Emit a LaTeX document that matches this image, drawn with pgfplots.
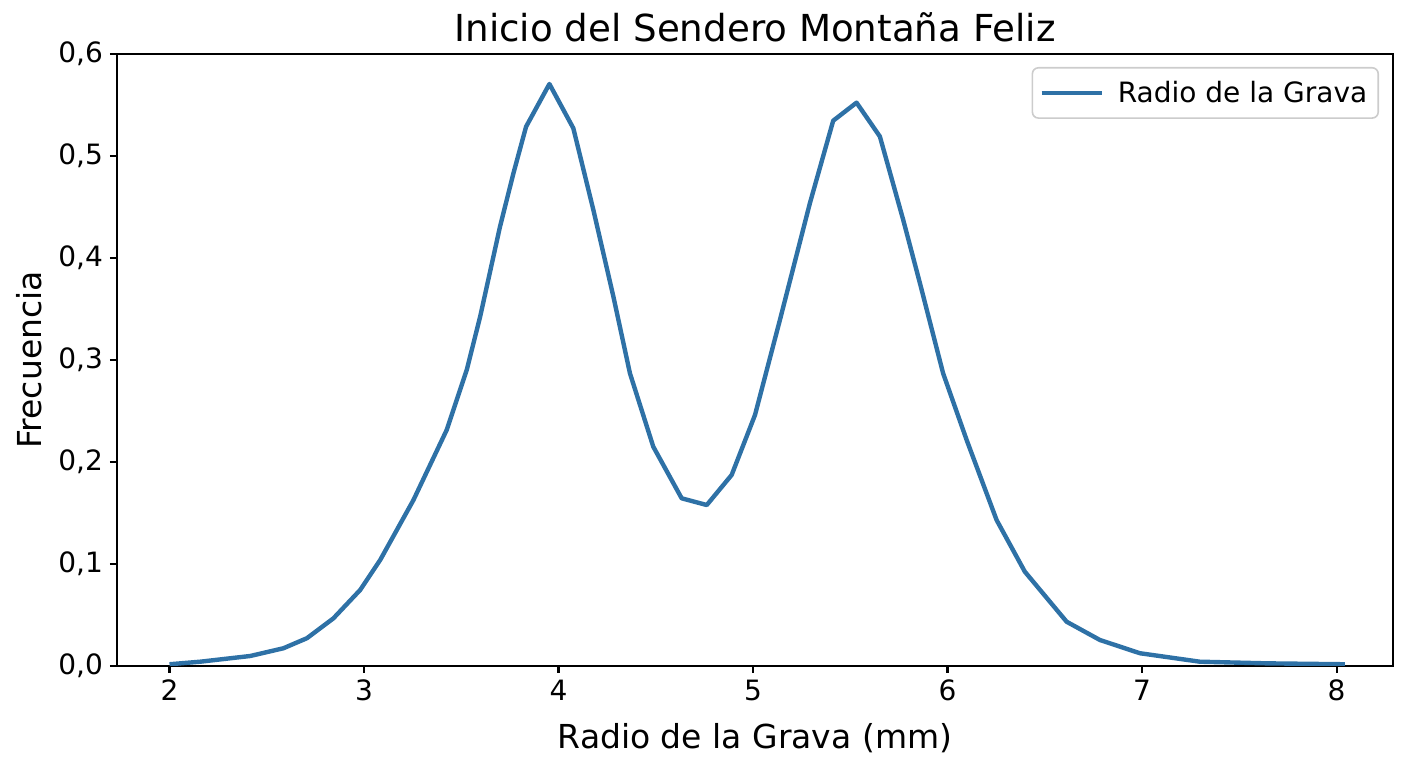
\documentclass[border=0pt]{standalone}
\usepackage{fontspec}
\setmainfont{DejaVu Sans}
\usepackage{pgfplots}
\pgfplotsset{compat=1.18}
\definecolor{lineblue}{HTML}{2E71A6}
\begin{document}
\begin{tikzpicture}
\begin{axis}[
  scale only axis, width=638pt, height=306pt,
  xmin=1.73, xmax=8.29, ymin=0, ymax=0.6,
  xtick={2,3,4,5,6,7,8},
  ytick={0,0.1,0.2,0.3,0.4,0.5,0.6},
  xtick pos=bottom, ytick pos=left,
  tick align=outside, major tick length=3.5pt,
  tick style={line width=1.1pt, black},
  axis line style={line width=1.1pt},
  /pgf/number format/assume math mode=true,
  yticklabel style={/pgf/number format/.cd, fixed, fixed zerofill, precision=1, use comma},
  tick label style={font=\fontsize{14}{16}\selectfont},
  title={Inicio del Sendero Montaña Feliz},
  every axis title shift=0pt,
  title style={font=\fontsize{18.6}{22}\selectfont, at={(axis description cs:0.5,1.0196)}, anchor=base},
  xlabel={Radio de la Grava (mm)},
  xlabel style={font=\fontsize{16.5}{20}\selectfont, at={(axis description cs:0.5,-0.1340)}, anchor=base},
  ylabel={Frecuencia},
  ylabel style={font=\fontsize{16.5}{20}\selectfont, at={(axis description cs:-0.0595,0.5)}, anchor=base},
  legend style={at={(1,1)}, anchor=north east, xshift=-7pt, yshift=-6.5pt, draw=black!20, line width=0.8pt, rounded corners=3pt, font=\fontsize{14}{16}\selectfont, inner xsep=3.5pt, inner ysep=4.5pt},
  legend cell align=left,
  legend image code/.code={\draw[#1] (0pt,0pt) -- (30pt,0pt); \path (35pt,0pt);},
]
\addplot[lineblue, line width=2.2pt, line join=round] coordinates {
(2.000,0.0017) (2.158,0.0042) (2.415,0.0098) (2.586,0.0174) (2.706,0.0272)
(2.843,0.0468) (2.980,0.0745) (3.083,0.1039) (3.254,0.1627) (3.425,0.2314)
(3.528,0.2902) (3.597,0.3425) (3.699,0.4307) (3.768,0.4830) (3.833,0.5287)
(3.953,0.5706) (4.076,0.5272) (4.179,0.4471) (4.282,0.3621) (4.367,0.2870)
(4.487,0.2150) (4.633,0.1644) (4.762,0.1578) (4.890,0.1873) (5.010,0.2461)
(5.138,0.3392) (5.292,0.4536) (5.412,0.5346) (5.532,0.5523) (5.652,0.5191)
(5.772,0.4373) (5.858,0.3752) (5.977,0.2870) (6.098,0.2216) (6.252,0.1431)
(6.397,0.0925) (6.612,0.0434) (6.783,0.0255) (6.989,0.0125) (7.297,0.0042)
(7.639,0.0026) (8.042,0.0017)
};
\addlegendentry{Radio de la Grava}
\end{axis}
\pgfresetboundingbox
\path ([xshift=-58.5pt,yshift=-51pt]current axis.south west) rectangle ([xshift=7.5pt,yshift=27pt]current axis.north east);
\end{tikzpicture}
\end{document}
